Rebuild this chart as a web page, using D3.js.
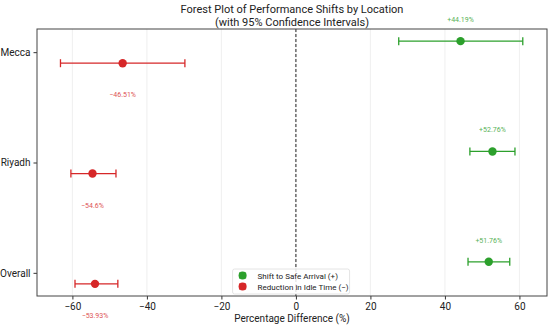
<!DOCTYPE html>
<html>
<head>
<meta charset="utf-8">
<script src="https://cdn.jsdelivr.net/npm/d3@7"></script>
<style>
  body { margin: 0; background: #fff; }
  text { font-family: Roboto, "DejaVu Sans", sans-serif; }
</style>
</head>
<body>
<div id="chart"></div>
<script>
// Data
const locations = ['Mecca', 'Riyadh', 'Overall']
const safeArrival = [44.19, 52.76, 51.76]
const safeLow = [27.6, 46.7, 46.2]
const safeHigh = [60.9, 58.8, 57.4]
const idleTime = [-46.51, -54.6, -53.93]
const idleLow = [-63.2, -60.4, -59.3]
const idleHigh = [-29.8, -48.3, -47.8]
const xTicks = [-60, -40, -20, 0, 20, 40, 60]

const width = 550
const height = 326
const margins = { top: 29, bottom: 30, left: 37, right: 3 }
const plotWidth = width - margins.left - margins.right
const plotHeight = height - margins.top - margins.bottom

const green = '#2ca02c'
const red = '#d62728'

const svg = d3.select('#chart').append('svg')
  .attr('width', width)
  .attr('height', height)

const plot = svg.append('g')
  .attr('transform', `translate(${margins.left}, ${margins.top})`)

const xScale = d3.scaleLinear()
  .domain([-69.5, 67.4])
  .range([0, plotWidth])
// category index: Mecca top, Overall bottom
const yScale = d3.scaleLinear()
  .domain([2.21, -0.21])
  .range([0, plotHeight])

// grid
plot.append('g').selectAll('line')
  .data(xTicks)
  .enter().append('line')
    .attr('x1', d => xScale(d)).attr('x2', d => xScale(d))
    .attr('y1', 0).attr('y2', plotHeight)
    .style('stroke', '#ebebeb')
    .style('stroke-width', 0.8)

// zero line
plot.append('line')
  .attr('x1', xScale(0)).attr('x2', xScale(0))
  .attr('y1', 0).attr('y2', plotHeight)
  .style('stroke', '#222')
  .style('stroke-width', 1)
  .style('stroke-dasharray', '3,2')

// axes
const xAxis = d3.axisBottom(xScale).tickValues(xTicks).tickSize(3.5).tickPadding(3)
  .tickFormat(d => d < 0 ? '\u2212' + Math.abs(d) : d)
const yAxis = d3.axisLeft(yScale).tickValues([2, 1, 0]).tickSize(3.5).tickPadding(3)
  .tickFormat(d => locations[locations.length - 1 - d])

plot.append('g')
  .attr('transform', `translate(0, ${plotHeight})`)
  .call(xAxis)
  .call(g => g.select('.domain').remove())
  .call(g => g.selectAll('text').style('font-size', '10px').style('fill', '#222'))
  .call(g => g.selectAll('line').style('stroke', '#333'))
plot.append('g')
  .call(yAxis)
  .call(g => g.select('.domain').remove())
  .call(g => g.selectAll('text').style('font-size', '10px').style('fill', '#222'))
  .call(g => g.selectAll('line').style('stroke', '#333'))

// frame
plot.append('rect')
  .attr('width', plotWidth).attr('height', plotHeight)
  .style('fill', 'none')
  .style('stroke', '#444')
  .style('stroke-width', 1)

const series = [
  { name: 'Shift to Safe Arrival (+)', color: green, values: safeArrival, low: safeLow, high: safeHigh, offset: 0.1 },
  { name: 'Reduction in Idle Time (\u2212)', color: red, values: idleTime, low: idleLow, high: idleHigh, offset: -0.1 }
]

series.forEach(s => {
  const rows = locations.map((loc, i) => ({
    v: s.values[i], lo: s.low[i], hi: s.high[i],
    y: yScale(locations.length - 1 - i + s.offset)
  }))
  const g = plot.append('g')
  const rowG = g.selectAll('g').data(rows).enter().append('g')
  rowG.append('line')
    .attr('x1', d => xScale(d.lo)).attr('x2', d => xScale(d.hi))
    .attr('y1', d => d.y).attr('y2', d => d.y)
    .style('stroke', s.color).style('stroke-width', 1.3)
  rowG.selectAll('.cap')
    .data(d => [{ x: d.lo, y: d.y }, { x: d.hi, y: d.y }])
    .enter().append('line')
      .attr('x1', d => xScale(d.x)).attr('x2', d => xScale(d.x))
      .attr('y1', d => d.y - 4).attr('y2', d => d.y + 4)
      .style('stroke', s.color).style('stroke-width', 1.3)
  rowG.append('circle')
    .attr('cx', d => xScale(d.v)).attr('cy', d => d.y)
    .attr('r', 4.2)
    .style('fill', s.color)
  rowG.append('text')
    .attr('x', d => xScale(d.v))
    .attr('y', d => s.offset > 0 ? d.y - 19 : d.y + 34)
    .attr('text-anchor', 'middle')
    .style('font-size', '7px')
    .style('fill', s.color)
    .style('opacity', 0.8)
    .text(d => (d.v > 0 ? '+' : '\u2212') + Math.abs(d.v) + '%')
})

// legend
const legend = plot.append('g')
  .attr('transform', `translate(${xScale(-17)}, ${plotHeight - 27})`)
legend.append('rect')
  .attr('width', 117).attr('height', 25)
  .attr('rx', 2)
  .style('fill', 'rgba(255,255,255,0.85)')
  .style('stroke', '#ddd')
  .style('stroke-width', 0.8)
const items = legend.selectAll('.item')
  .data(series)
  .enter().append('g')
    .attr('transform', (d, i) => `translate(10, ${6.5 + i * 11})`)
items.append('line')
  .attr('x1', -3).attr('x2', 3).attr('y1', 0).attr('y2', 0)
  .style('stroke', d => d.color).style('stroke-width', 1.2)
items.selectAll('.cap')
  .data(d => [{ x: -3, c: d.color }, { x: 3, c: d.color }])
  .enter().append('line')
    .attr('x1', d => d.x).attr('x2', d => d.x).attr('y1', -3).attr('y2', 3)
    .style('stroke', d => d.c).style('stroke-width', 1)
items.append('circle')
  .attr('r', 4).style('fill', d => d.color)
items.append('text')
  .attr('x', 15).attr('y', 3)
  .style('font-size', '8px')
  .style('fill', '#222')
  .text(d => d.name)

// labels
svg.append('text')
  .attr('x', margins.left + plotWidth / 2).attr('y', 322)
  .attr('text-anchor', 'middle')
  .style('font-size', '10px').style('fill', '#222')
  .text('Percentage Difference (%)')
svg.append('text')
  .attr('x', margins.left + plotWidth / 2).attr('y', 13)
  .attr('text-anchor', 'middle')
  .style('font-size', '11px').style('fill', '#222')
  .text('Forest Plot of Performance Shifts by Location')
svg.append('text')
  .attr('x', margins.left + plotWidth / 2).attr('y', 26)
  .attr('text-anchor', 'middle')
  .style('font-size', '11px').style('fill', '#222')
  .text('(with 95% Confidence Intervals)')
</script>
</body>
</html>
